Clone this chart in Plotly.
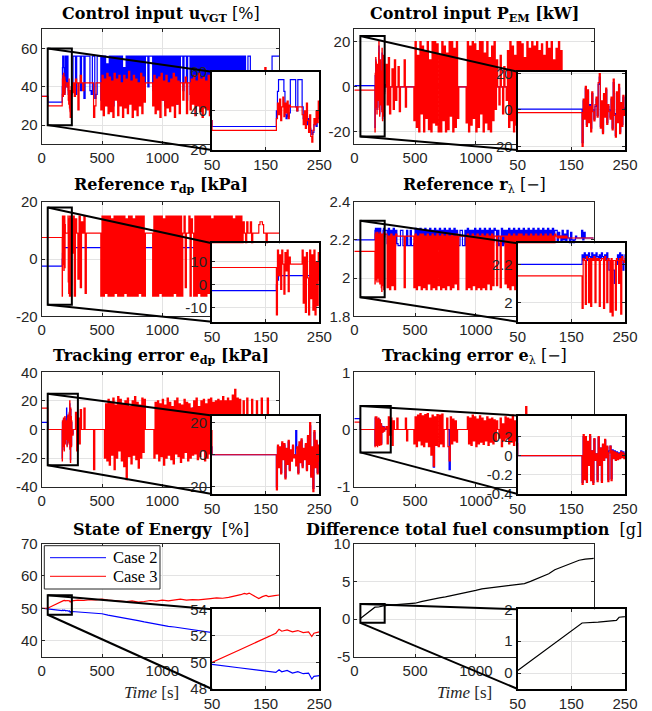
import plotly.graph_objects as go

# ---------------- shared time grid [s] ----------------
T_HEAD = [0, 49, 50, 162,
          164, 166, 168, 170, 172, 174, 176, 178, 180, 182, 184,
          186, 188, 190, 192, 194, 196, 198, 200, 202, 204, 206,
          208, 210, 212, 214, 216, 218, 220, 222, 224, 226, 228,
          230, 232, 234, 236, 238, 240, 242, 244, 246, 248, 250]
T_TAIL = [260, 270, 280, 290, 300, 310, 320, 330, 340, 350,
          360, 370, 380, 390, 400, 410, 420, 430, 440, 450,
          460, 470, 480, 490, 500, 510, 520, 530, 540, 550,
          560, 570, 580, 590, 600, 610, 620, 630, 640, 650,
          660, 670, 680, 690, 700, 710, 720, 730, 740, 750,
          760, 770, 780, 790, 800, 810, 820, 830, 840, 850,
          860, 870, 880, 890, 900, 910, 920, 930, 940, 950,
          960, 970, 980, 990, 1000, 1010, 1020, 1030, 1040, 1050,
          1060, 1070, 1080, 1090, 1100, 1110, 1120, 1130, 1140, 1150,
          1160, 1170, 1180, 1190, 1200, 1210, 1220, 1230, 1240, 1250,
          1260, 1270, 1280, 1290, 1300, 1310, 1320, 1330, 1340, 1350,
          1360, 1370, 1380, 1390, 1400, 1410, 1420, 1430, 1440, 1450,
          1460, 1470, 1480, 1490, 1500, 1510, 1520, 1530, 1540, 1550,
          1560, 1570, 1580, 1590, 1600, 1610, 1620, 1630, 1640, 1650,
          1660, 1670, 1680, 1690, 1700, 1710, 1720, 1730, 1740, 1750,
          1760, 1770, 1780, 1790, 1800, 1810, 1820, 1830, 1840, 1850,
          1860, 1870, 1880, 1890, 1900, 1910, 1920, 1930, 1940, 1950,
          1960, 1970]
TIME = T_HEAD + T_TAIL

# ---------------- Control input u_VGT [%] ----------------
UVGT_CASE2 = [35, 35, 32, 32,
    32, 32, 32, 40, 50, 56, 56, 56, 56, 56, 50,
    38, 36, 40, 37, 39, 56, 56, 56, 56, 56, 42,
    40, 56, 56, 56, 56, 42, 36, 38, 34, 37, 33,
    36, 31, 30, 28, 29, 33, 35, 32, 38, 36, 40,
    56, 56, 36, 56, 56, 56, 38, 56, 56, 34,
    56, 56, 56, 56, 38, 36, 56, 56, 34, 36,
    56, 56, 56, 33, 56, 31, 56, 36, 52, 30,
    56, 34, 56, 30, 56, 38, 56, 32, 56, 36,
    56, 33, 50, 35, 56, 30, 56, 37, 56, 32,
    56, 35, 56, 31, 56, 34, 56, 38, 56, 33,
    56, 56, 40, 56, 56, 56, 38, 56, 34, 56,
    31, 56, 36, 56, 33, 56, 30, 56, 38, 56,
    34, 56, 32, 56, 37, 56, 31, 56, 35, 56,
    56, 38, 56, 56, 33, 56, 56, 36, 56, 34,
    56, 32, 56, 36, 56, 30, 56, 35, 56, 33,
    56, 34, 56, 31, 56, 37, 56, 30, 56, 33,
    56, 36, 56, 32, 56, 35, 56, 30, 56, 38,
    56, 33, 56, 36, 56, 31, 56, 34, 56, 37,
    56, 35, 56, 32, 36, 56, 56, 36, 35, 36,
    35, 36, 35, 36, 35, 36, 35, 36, 35, 36,
    35, 36, 35, 36, 35, 56, 56, 56, 56, 56,
    56, 56]
UVGT_CASE3 = [35, 35, 30, 30,
    30, 30, 30, 36, 44, 38, 46, 35, 42, 47, 37,
    44, 39, 45, 36, 43, 42, 42, 42, 42, 42, 42,
    40, 42, 42, 42, 42, 38, 33, 40, 31, 44, 35,
    29, 38, 27, 24, 30, 36, 33, 40, 34, 45, 37,
    42, 35, 44, 42, 28, 42, 46, 42, 38, 42,
    42, 42, 42, 42, 42, 42, 42, 24, 30, 42,
    42, 42, 42, 28, 46, 25, 44, 30, 47, 26,
    45, 27, 43, 24, 47, 33, 44, 25, 46, 30,
    42, 24, 46, 29, 44, 26, 48, 31, 43, 24,
    46, 28, 44, 25, 42, 30, 47, 26, 45, 32,
    42, 42, 42, 42, 42, 42, 30, 46, 26, 44,
    28, 45, 24, 47, 33, 43, 25, 46, 29, 42,
    27, 44, 30, 47, 24, 45, 31, 43, 26, 42,
    42, 33, 42, 45, 26, 42, 42, 28, 44, 31,
    46, 25, 43, 30, 47, 27, 44, 24, 45, 29,
    43, 28, 46, 25, 44, 31, 42, 26, 47, 29,
    45, 27, 44, 30, 46, 24, 43, 28, 42, 31,
    44, 26, 47, 29, 43, 25, 45, 30, 42, 27,
    46, 28, 44, 31, 42, 42, 42, 42, 42, 42,
    42, 42, 42, 42, 42, 42, 42, 42, 42, 50,
    42, 42, 42, 42, 42, 42, 42, 42, 42, 42,
    42, 42]

# ---------------- Control input P_EM [kW] ----------------
PEM_CASE2_T = T_HEAD + [260, 1970]
PEM_CASE2 = [0.5, 0.5, 0.5, 0.5,
    0.5, 0.5, 0.5, -18, 5, -4, 12, -8, 10, -6, 3,
    -10, 9, 0, -5, 2, 6, -3, 14, 18, -9, 4,
    -12, 8, -3, 11, -7, 2, 0, -4, 6, -10, 15,
    -2, -14, 9, -6, 12, -12, 3, -8, 7, -2, 1,
    0, 0]
PEM_CASE3 = [-1.5, -1.5, -1.5, -1.5,
    -1.5, -1.5, -1.5, -20, 6, -5, 13, -9, 11, -7, 2,
    -12, 10, -1, -6, 3, 7, -4, 15, 20, -10, 5,
    -13, 9, -4, 12, -8, 3, -1, -5, 7, -11, 17,
    -3, -15, 10, -7, 14, -13, 4, -9, 8, -3, 0,
    10, -8, 13, -12, 0, 8, -10, 12, -6, 0,
    9, -11, 0, 0, 0, 12, -9, 0, 0, 0,
    0, 0, 0, -15, 20, -18, 14, -20, 20, -12,
    18, -20, 16, -14, 20, -19, 12, -20, 20, -16,
    20, -17, 19, -20, 14, -20, 20, -15, 18, -20,
    15, -19, 20, -13, 20, -20, 17, -18, 20, -14,
    0, 0, 0, 0, 0, 0, -16, 20, -20, 18,
    -17, 20, -14, 19, -20, 16, -18, 20, -12, 20,
    -20, 15, -16, 20, -19, 13, -20, 18, -15, 20,
    -10, 12, 0, -8, 14, 0, -12, 9, 0, -6,
    16, -18, 20, -15, 18, -20, 14, -17, 20, -19,
    20, -16, 19, -20, 13, -18, 20, -14, 17, -20,
    20, -15, 18, -19, 20, -12, 16, -20, 19, -17,
    14, -18, 20, -13, 17, -19, 20, -16, 12, -18,
    17, -15, 20, -12, 16, 0, 0, 0, 0, 0,
    0, 0, 0, 0, 0, 0, 0, 0, 0, 0,
    0, 0, 0, 0, 0, 0, 0, 0, 0, 0,
    0, 0]

# ---------------- Reference r_dp [kPa] ----------------
RDP_CASE2_T = [0, 168, 170, 172, 174, 230, 232, 236, 238, 1970]
RDP_CASE2 = [-2.5, -2.5, 0, 2, 4, 4, -3, -3, 4, 4]
RDP_CASE3 = [7.5, 7.5, 7.5, 7.5,
    7.5, 7.5, 7.5, -13, 15, 4, 13, -2, 15, 9, -4,
    14, 6, 15, -3, 12, 9, 9, 9, 9, 9, 9,
    9, 9, 9, 9, 9, 15, -8, 12, -12, 14, 3,
    -13, 15, -6, 13, -11, 15, -13, 10, -9, 14, 2,
    15, -13, 14, 9, -7, 15, -10, 13, 9, 15,
    -12, 9, 9, 9, 9, 9, 9, 9, 9, 9,
    9, 9, 9, -13, 15, -13, 15, -12, 15, -13,
    15, -13, 14, -13, 15, -12, 15, -13, 15, -13,
    15, -13, 15, -12, 14, -13, 15, -13, 15, -13,
    14, -13, 15, -13, 15, -12, 15, -13, 15, -13,
    9, 9, 9, 9, 9, 9, -13, 15, -13, 15,
    -13, 15, -12, 15, -13, 14, -13, 15, -13, 15,
    -13, 15, -13, 15, -12, 15, -13, 15, -13, 15,
    -13, 9, 15, -10, 9, 9, 15, -13, 14, 9,
    -13, 15, -13, 15, -12, 15, -13, 15, -13, 15,
    -13, 15, -12, 15, -13, 14, -13, 15, -13, 15,
    -13, 15, -13, 15, -12, 15, -13, 15, -13, 15,
    -12, 15, -13, 14, -13, 15, -12, 15, -13, 15,
    -13, 13, 9, -5, 13, 9, 9, 13, -4, 9,
    9, 9, 9, 9, 12, 13, 13, 12, 9, 9,
    4, 9, 9, 9, 9, 9, 9, 9, 9, 9,
    9, 9]

# ---------------- Reference r_lambda [-] ----------------
RLAM_CASE2 = [2.2, 2.2, 2.2, 2.2,
    2.2, 2.2, 2.2, 2.25, 2.22, 2.26, 2.23, 2.25, 2.22, 2.26, 2.24,
    2.22, 2.26, 2.23, 2.25, 2.22, 2.26, 2.24, 2.22, 2.25, 2.23, 2.26,
    2.24, 2.22, 2.25, 2.22, 2.26, 2.23, 2.17, 2.17, 2.17, 2.17, 2.17,
    2.1, 2.17, 2.2, 2.25, 2.22, 2.26, 2.23, 2.25, 2.17, 2.22, 2.25,
    2.25, 2.18, 2.26, 2.17, 2.25, 2.19, 2.26, 2.17, 2.25, 2.18,
    2.17, 2.17, 2.25, 2.25, 2.17, 2.17, 2.17, 2.25, 2.17, 2.17,
    2.25, 2.17, 2.17, 2.18, 2.26, 2.17, 2.25, 2.19, 2.26, 2.17,
    2.25, 2.18, 2.26, 2.17, 2.25, 2.19, 2.26, 2.18, 2.25, 2.17,
    2.26, 2.17, 2.25, 2.18, 2.26, 2.17, 2.25, 2.19, 2.26, 2.18,
    2.25, 2.17, 2.26, 2.18, 2.25, 2.17, 2.26, 2.19, 2.25, 2.17,
    2.17, 2.25, 2.25, 2.17, 2.17, 2.25, 2.17, 2.26, 2.18, 2.25,
    2.17, 2.25, 2.18, 2.26, 2.17, 2.25, 2.19, 2.26, 2.17, 2.25,
    2.18, 2.26, 2.17, 2.25, 2.18, 2.26, 2.17, 2.25, 2.19, 2.26,
    2.25, 2.17, 2.25, 2.17, 2.18, 2.26, 2.17, 2.25, 2.18, 2.25,
    2.17, 2.26, 2.18, 2.25, 2.17, 2.26, 2.18, 2.25, 2.17, 2.26,
    2.18, 2.25, 2.17, 2.26, 2.18, 2.25, 2.17, 2.26, 2.19, 2.25,
    2.17, 2.26, 2.18, 2.25, 2.17, 2.26, 2.18, 2.25, 2.17, 2.26,
    2.18, 2.25, 2.17, 2.26, 2.19, 2.25, 2.17, 2.26, 2.18, 2.25,
    2.25, 2.19, 2.24, 2.22, 2.19, 2.25, 2.2, 2.23, 2.19, 2.25,
    2.21, 2.18, 2.24, 2.2, 2.17, 2.2, 2.22, 2.21, 2.21, 2.21,
    2.21, 2.25, 2.2, 2.24, 2.21, 2.21, 2.21, 2.21, 2.21, 2.21,
    2.21, 2.21]
RLAM_CASE3 = [2.14, 2.14, 2.14, 2.14,
    2.14, 2.14, 2.14, 1.97, 2.23, 2.22, 1.99, 2.24, 2.23, 2.0, 2.23,
    1.98, 2.23, 2.22, 2.24, 2.0, 2.23, 2.22, 2.23, 1.98, 2.22, 2.23,
    2.23, 1.97, 2.24, 2.22, 2.0, 2.23, 2.22, 1.95, 2.23, 1.93, 2.22,
    2.22, 1.96, 2.23, 2.22, 2.1, 2.23, 1.94, 2.24, 2.22, 2.21, 2.23,
    2.23, 1.95, 2.22, 1.94, 2.23, 1.96, 2.22, 1.94, 2.23, 2.22,
    2.22, 2.22, 2.22, 2.22, 2.22, 1.95, 2.22, 2.22, 2.22, 2.22,
    2.22, 2.22, 2.22, 1.95, 2.23, 1.94, 2.22, 1.96, 2.23, 1.94,
    2.23, 1.95, 2.22, 1.94, 2.23, 1.97, 2.22, 1.94, 2.23, 1.95,
    2.22, 1.94, 2.23, 1.96, 2.22, 1.94, 2.23, 1.95, 2.22, 1.94,
    2.23, 1.96, 2.22, 1.94, 2.23, 1.95, 2.22, 1.97, 2.23, 1.94,
    2.22, 2.22, 2.22, 2.22, 2.22, 2.22, 1.94, 2.23, 1.95, 2.22,
    1.94, 2.23, 1.96, 2.22, 1.94, 2.23, 1.95, 2.22, 1.94, 2.23,
    1.95, 2.22, 1.94, 2.23, 1.97, 2.22, 1.94, 2.23, 1.96, 2.22,
    2.22, 1.96, 2.22, 2.22, 1.95, 2.22, 2.22, 2.22, 1.97, 2.22,
    1.95, 2.23, 1.94, 2.22, 1.96, 2.23, 1.94, 2.22, 1.95, 2.23,
    1.96, 2.23, 1.94, 2.22, 1.95, 2.23, 1.97, 2.22, 1.94, 2.23,
    1.95, 2.22, 1.94, 2.23, 1.96, 2.22, 1.95, 2.23, 1.94, 2.22,
    1.96, 2.23, 1.94, 2.22, 1.95, 2.23, 1.94, 2.22, 1.97, 2.23,
    2.22, 2.21, 2.22, 2.21, 2.22, 2.21, 2.22, 2.21, 2.22, 2.21,
    2.21, 2.21, 2.21, 2.21, 2.21, 2.21, 2.21, 2.21, 2.21, 2.21,
    2.21, 2.21, 2.21, 2.21, 2.21, 2.21, 2.21, 2.21, 2.21, 2.21,
    2.21, 2.21]

# ---------------- Tracking error e_dp [kPa] ----------------
EDP_HEAD_CASE2 = [5, 5, 0, 0,
    0, 0, 0, -20, 5, -7, 4, -11, 7, -2, 6,
    -14, 3, -5, 8, -9, 2, -3, 5, -1, 0, 15,
    4, -11, 6, -4, 9, -7, 3, -2, 6, -9, 11,
    -5, 18, -13, 4, -21, 14, -7, 8, -11, 5, -3]
EDP_CASE2_T = T_HEAD + [260, 560, 570, 580, 950, 960, 970, 1240, 1250, 1260, 1970]
EDP_CASE2 = EDP_HEAD_CASE2 + [0, 0, -14, 0, 0, 18, 0, 0, 15, 0, 0]
EDP_CASE3 = [15, 15, 0, 0,
    0, 0, 0, -22, 6, -8, 5, -12, 8, -3, 7,
    -15, 4, -6, 9, -10, 3, -4, 6, -2, 0, -7,
    5, -12, 8, -5, 10, -8, 4, -3, 7, -10, 12,
    -6, 20, -14, 5, -23, 15, -8, 9, -12, 6, -4,
    0, 0, 12, -15, 8, -10, 14, 0, 0, 15,
    0, 0, 0, 0, 0, 0, 0, -28, 0, 0,
    0, 0, 0, 0, 0, 0, -20, 18, -22, 21,
    -25, 19, -18, 22, -28, 17, -20, 23, -15, 21,
    -22, 18, -26, 20, -35, 22, -19, 16, -24, 20,
    -18, 23, -21, 19, -27, 17, -20, 22, -16, 21,
    0, 0, 0, 0, 0, 0, 0, -20, 19, -17,
    20, -22, 18, -19, 21, -25, 17, -20, 22, -18,
    19, -21, 16, -24, 20, -17, 22, -19, 18, -23,
    17, -20, 21, -16, 19, -22, 18, -20, 15, -18,
    20, -17, 22, -21, 16, -19, 20, -15, 21, -22,
    18, -20, 21, -17, 22, -20, 19, -16, 20, -22,
    21, -18, 20, -19, 23, -17, 20, -21, 22, -18,
    20, -19, 24, -16, 28, -20, 22, -18, 21, -17,
    0, 20, 0, 0, 22, 0, 0, 0, 21, 0,
    0, 0, 20, 0, 0, 0, 22, 0, 0, 0,
    0, 22, 0, 0, 0, 0, 0, 0, 0, 0,
    0, 0]

# ---------------- Tracking error e_lambda [-] ----------------
ELAM_HEAD_CASE2 = [0.19, 0.19, 0, 0,
    0, 0, 0, -0.28, 0.2, -0.23, 0.19, -0.26, 0.14, -0.09, 0.2,
    -0.24, 0.05, -0.28, 0.17, -0.05, 0.02, -0.25, 0.19, -0.09, 0.08, -0.26,
    0.11, -0.05, 0.16, -0.02, 0.09, -0.25, 0.05, 0.1, -0.24, 0.06, -0.02,
    0.05, -0.04, 0.04, -0.03, 0.03, -0.02, 0.05, -0.01, 0.04, -0.02, 0.02]
ELAM_CASE2_T = T_HEAD + [260, 640, 650, 660, 770, 780, 790, 1970]
ELAM_CASE2 = ELAM_HEAD_CASE2 + [0, 0, -0.66, 0, 0, -0.7, 0, 0]
ELAM_CASE3 = [0.13, 0.13, 0, 0,
    0, 0, 0, -0.3, 0.22, -0.25, 0.2, -0.28, 0.15, -0.1, 0.22,
    -0.26, 0.05, -0.3, 0.18, -0.05, 0.02, -0.27, 0.2, -0.1, 0.08, -0.28,
    0.12, -0.05, 0.17, -0.02, 0.1, -0.27, 0.03, 0.1, -0.26, 0.05, -0.03,
    0.04, -0.05, 0.03, -0.04, 0.02, -0.03, 0.04, -0.02, 0.03, -0.03, 0.01,
    0.05, -0.25, 0.22, -0.1, 0.2, -0.28, 0.15, 0, 0, 0.2,
    0, 0, 0, 0, 0, 0, 0.2, -0.2, 0, 0,
    0, 0, 0, -0.25, 0.22, -0.3, 0.25, -0.2, 0.28, -0.27,
    0.24, -0.3, 0.26, -0.22, 0.28, -0.3, 0.2, -0.45, 0.25, -0.64,
    0.22, -0.28, 0.26, -0.3, 0.25, -0.25, 0.27, -0.3, 0, 0,
    0.2, -0.3, -0.55, 0.22, -0.25, 0.18, -0.2, 0.15, -0.22, 0,
    0, 0, 0, 0, 0, 0, 0, 0.22, -0.25, 0.2,
    -0.28, 0.25, -0.2, 0.22, -0.3, 0.18, -0.25, 0.24, -0.22, 0.2,
    -0.26, 0.15, -0.2, 0.22, -0.28, 0.18, -0.22, 0.2, -0.25, 0.17,
    -0.2, 0.15, 0, -0.15, 0.2, -0.3, 0.1, -0.2, 0.22, -0.15,
    0.2, -0.25, 0.18, -0.22, 0.25, -0.28, 0.15, -0.2, 0.22, -0.3,
    0.2, -0.25, 0.22, -0.2, 0.25, 0.4, -0.2, 0.15, -0.1, 0.1,
    -0.05, 0.08, -0.1, 0.05, 0, 0, 0.06, -0.05, 0, 0,
    0, 0, 0, 0, 0, 0, 0, 0, 0, 0,
    0, 0, 0, 0, 0, 0, 0, 0, 0, 0,
    0, 0, 0, 0, 0, 0, 0, 0, 0, 0,
    0, 0, 0, 0, 0, 0, 0, 0, 0, 0,
    0, 0]

# ---------------- State of Energy [%] ----------------
SOE_T = [0, 50, 100, 169, 175, 180, 190, 200, 210, 220, 230, 236, 240, 250,
         300, 350, 400, 450, 500, 550, 600, 650, 700, 750, 800, 850, 900, 950,
         1000, 1050, 1100, 1150, 1200, 1250, 1300, 1350, 1400, 1450, 1500, 1550,
         1600, 1650, 1680, 1700, 1720, 1750, 1780, 1800, 1830, 1860, 1880, 1900,
         1930, 1970]
SOE_CASE2 = [50, 49.85, 49.6, 49.25, 49.45, 49.3, 49.4, 49.2, 49.3, 49.15, 49.2, 48.75, 48.95, 49.0,
             48.9, 48.8, 48.7, 48.5, 48.3, 47.9, 47.6, 47.3, 46.9, 46.5, 46.2, 45.8, 45.4, 45.1,
             44.7, 44.4, 44.2, 43.9, 43.6, 43.4, 43.0, 42.8, 42.4, 42.2, 42.0, 41.8,
             41.6, 41.4, 41.3, 41.2, 41.1, 41.0, 40.9, 40.8, 40.7, 40.6, 40.5, 40.5,
             40.4, 40.3]
SOE_CASE3 = [50, 50.0, 50.92, 52.2, 52.5, 52.35, 52.45, 52.3, 52.4, 52.25, 52.3, 51.95, 52.2, 52.3,
             52.5, 52.4, 52.7, 52.6, 52.8, 52.5, 52.4, 52.3, 52.1, 52.3, 51.9, 52.1, 52.4, 52.2,
             52.5, 52.3, 52.6, 52.8, 52.5, 52.7, 52.6, 52.9, 53.0, 53.2, 53.1, 53.4,
             53.7, 54.2, 54.6, 54.4, 54.7, 54.0, 53.5, 53.0, 53.6, 54.0, 53.6, 53.8,
             53.9, 54.1]

# ---------------- Difference total fuel consumption [g] ----------------
FUEL_T = [50, 100, 170, 200, 234, 239, 250, 300, 350, 400, 450, 500, 550, 600, 650,
          700, 750, 800, 850, 900, 950, 1000, 1050, 1100, 1150, 1200, 1250, 1300,
          1350, 1400, 1450, 1500, 1550, 1600, 1650, 1700, 1750, 1800, 1850, 1900,
          1950, 1980]
FUEL_DIFF = [0.08, 0.7, 1.57, 1.6, 1.65, 1.75, 1.78, 1.85, 1.9, 1.95, 2.0, 2.1, 2.3, 2.5, 2.65,
             2.8, 2.95, 3.1, 3.3, 3.45, 3.55, 3.8, 4.0, 4.1, 4.2, 4.25, 4.35, 4.45,
             4.5, 4.7, 5.0, 5.3, 5.6, 6.0, 6.55, 6.85, 7.15, 7.45, 7.8, 7.95,
             8.0, 8.05]

for s in (UVGT_CASE2, UVGT_CASE3, PEM_CASE3, RDP_CASE3, RLAM_CASE2, RLAM_CASE3, EDP_CASE3, ELAM_CASE3):
    assert len(s) == len(TIME), len(s)
assert len(PEM_CASE2) == len(PEM_CASE2_T)
assert len(EDP_CASE2) == len(EDP_CASE2_T)
assert len(ELAM_CASE2) == len(ELAM_CASE2_T)
assert len(SOE_CASE2) == len(SOE_T) == len(SOE_CASE3)
assert len(FUEL_T) == len(FUEL_DIFF)

MAIN_XTICKS = [0, 500, 1000]
INSET_XTICKS = [50, 150, 250]
XMAX = 1970

BLUE, RED, BLACK = '#0000ff', '#ff0000', '#000000'

# ---------------- layout geometry (pixels) ----------------
W, H = 652, 711
def fx(p): return p / W
def fy(p): return 1 - p / H

COLS = {'L': (41.7, 279.3), 'R': (354.3, 593.7)}
INS_X = {'L': (212.0, 319.3), 'R': (517.7, 625.0)}
ROWS = [(29.3, 144.3), (201.7, 316.3), (372.3, 486.7), (543.7, 656.7)]
INS_Y = [(71.7, 150.0), (243.3, 321.7), (415.5, 494.0), (609.3, 689.0)]
TITLE_Y = [14, 185, 356.5, 529]

panels = [
    dict(col='L', row=0, title='<b>Control input u<sub>VGT</sub></b> [%]',
         yr=[10, 70], yt=[20, 40, 60], iyr=[20, 60], iyt=[20, 40, 60], rect=[50, 250, 20, 60],
         series=[(TIME, UVGT_CASE2, BLUE), (TIME, UVGT_CASE3, RED)], shape='hv'),
    dict(col='R', row=0, title='<b>Control input P<sub>EM</sub> [kW]</b>',
         yr=[-25.5, 25.5], yt=[-20, 0, 20], iyr=[-22, 21], iyt=[-20, 0, 20], rect=[50, 250, -22, 22.5],
         series=[(PEM_CASE2_T, PEM_CASE2, BLUE), (TIME, PEM_CASE3, RED)], shape='hv'),
    dict(col='L', row=1, title='<b>Reference r<sub>dp</sub> [kPa]</b>',
         yr=[-20, 20], yt=[-20, 0, 20], iyr=[-16, 18], iyt=[-10, 0, 10], rect=[50, 250, -16, 18],
         series=[(RDP_CASE2_T, RDP_CASE2, BLUE), (TIME, RDP_CASE3, RED)], shape='hv'),
    dict(col='R', row=1, title='<b>Reference r</b><sub>λ</sub> [−]',
         yr=[1.8, 2.4], yt=[1.8, 2, 2.2, 2.4], iyr=[1.9, 2.31], iyt=[2, 2.2], rect=[50, 250, 1.9, 2.3],
         series=[(TIME, RLAM_CASE2, BLUE), (TIME, RLAM_CASE3, RED)], shape='hv'),
    dict(col='L', row=2, title='<b>Tracking error e<sub>dp</sub> [kPa]</b>',
         yr=[-40, 40], yt=[-40, -20, 0, 20, 40], iyr=[-24.5, 24.5], iyt=[-20, 0, 20], rect=[50, 300, -25, 25],
         series=[(EDP_CASE2_T, EDP_CASE2, BLUE), (TIME, EDP_CASE3, RED)], shape='hv'),
    dict(col='R', row=2, title='<b>Tracking error e</b><sub>λ</sub> [−]',
         yr=[-1, 1], yt=[-1, 0, 1], iyr=[-0.4, 0.42], iyt=[-0.4, -0.2, 0, 0.2], rect=[50, 300, -0.4, 0.41],
         series=[(ELAM_CASE2_T, ELAM_CASE2, BLUE), (TIME, ELAM_CASE3, RED)], shape='hv'),
    dict(col='L', row=3, title='<b>State of Energy</b>  [%]',
         yr=[35, 70], yt=[40, 50, 60, 70], iyr=[48, 54], iyt=[48, 50, 52, 54], rect=[50, 250, 48, 54],
         series=[(SOE_T, SOE_CASE2, BLUE), (SOE_T, SOE_CASE3, RED)], shape='linear'),
    dict(col='R', row=3, title='<b>Difference total fuel consumption</b>  [g]',
         yr=[-5, 10], yt=[-5, 0, 5, 10], iyr=[-0.5, 2], iyt=[0, 1, 2], rect=[50, 250, -0.5, 2],
         series=[(FUEL_T, FUEL_DIFF, BLACK)], shape='linear'),
]

def lab(v):
    return ('%g' % v)

TICKFONT = dict(family='Liberation Sans, Arial, sans-serif', size=15, color='#262626')
AX_COMMON = dict(showgrid=True, gridcolor='#e3e3e3', gridwidth=1, zeroline=False,
                 showline=True, mirror='ticks', ticks='inside', ticklen=3,
                 tickfont=TICKFONT, fixedrange=True, automargin=False)

fig = go.Figure()
layout = {}
shapes = []
annotations = []

for i, p in enumerate(panels):
    m, n = i + 1, i + 9
    x0, x1 = COLS[p['col']]
    y0, y1 = ROWS[p['row']]
    ix0, ix1 = INS_X[p['col']]
    iy0, iy1 = INS_Y[p['row']]
    layout['xaxis%d' % m] = dict(domain=[fx(x0), fx(x1)], range=[0, XMAX], anchor='y%d' % m,
                                 tickvals=MAIN_XTICKS, ticktext=[lab(v) for v in MAIN_XTICKS],
                                 linecolor='#262626', linewidth=1, tickcolor='#262626', **AX_COMMON)
    layout['yaxis%d' % m] = dict(domain=[fy(y1), fy(y0)], range=p['yr'], anchor='x%d' % m,
                                 tickvals=p['yt'], ticktext=[lab(v) for v in p['yt']],
                                 linecolor='#262626', linewidth=1, tickcolor='#262626', **AX_COMMON)
    layout['xaxis%d' % n] = dict(domain=[fx(ix0), fx(ix1)], range=[50, 250], anchor='y%d' % n,
                                 tickvals=INSET_XTICKS, ticktext=[lab(v) for v in INSET_XTICKS],
                                 linecolor='#000000', linewidth=2, tickcolor='#262626', **AX_COMMON)
    layout['yaxis%d' % n] = dict(domain=[fy(iy1), fy(iy0)], range=p['iyr'], anchor='x%d' % n,
                                 tickvals=p['iyt'], ticktext=[lab(v) for v in p['iyt']],
                                 linecolor='#000000', linewidth=2, tickcolor='#262626', **AX_COMMON)
    for ax in (m, n):
        for (t, y, c) in p['series']:
            fig.add_trace(go.Scatter(x=t, y=y, mode='lines',
                                     line=dict(color=c, width=1.2, shape=p['shape']),
                                     xaxis='x%d' % ax, yaxis='y%d' % ax,
                                     showlegend=False, hoverinfo='skip'))
    # zoom rectangle in data coordinates
    r = p['rect']
    shapes.append(dict(type='rect', xref='x%d' % m, yref='y%d' % m,
                       x0=r[0], x1=r[1], y0=r[2], y1=r[3],
                       line=dict(color='black', width=2), layer='above'))
    # connectors from rectangle corners to inset corners
    def dx(v): return x0 + (v - 0) / XMAX * (x1 - x0)
    def dy(v): return y1 - (v - p['yr'][0]) / (p['yr'][1] - p['yr'][0]) * (y1 - y0)
    shapes.append(dict(type='line', xref='paper', yref='paper',
                       x0=fx(dx(r[0])), y0=fy(dy(r[3])), x1=fx(ix0), y1=fy(iy0),
                       line=dict(color='black', width=2), layer='above'))
    shapes.append(dict(type='line', xref='paper', yref='paper',
                       x0=fx(dx(r[0])), y0=fy(dy(r[2])), x1=fx(ix0), y1=fy(iy1),
                       line=dict(color='black', width=2), layer='above'))
    # title
    annotations.append(dict(text=p['title'], x=fx((x0 + x1) / 2), y=fy(TITLE_Y[p['row']]),
                            xref='paper', yref='paper', xanchor='center', yanchor='middle',
                            showarrow=False,
                            font=dict(family='DejaVu Serif, serif', size=16, color='black')))

# x labels of the bottom row
for cx in (151, 464):
    annotations.append(dict(text='<i>Time</i> [s]', x=fx(cx), y=fy(692), xref='paper', yref='paper',
                            xanchor='center', yanchor='middle', showarrow=False,
                            font=dict(family='Liberation Serif, serif', size=17, color='#262626')))

# legend (State of Energy panel)
shapes.append(dict(type='rect', xref='paper', yref='paper', x0=fx(44.3), x1=fx(160), y0=fy(589), y1=fy(545.7),
                   fillcolor='white', line=dict(color='#262626', width=1), layer='above'))
for yy, c, name in ((557.7, BLUE, 'Case 2'), (576.3, RED, 'Case 3')):
    shapes.append(dict(type='line', xref='paper', yref='paper', x0=fx(50), x1=fx(106), y0=fy(yy), y1=fy(yy),
                       line=dict(color=c, width=1), layer='above'))
    annotations.append(dict(text=name, x=fx(111), y=fy(yy), xref='paper', yref='paper',
                            xanchor='left', yanchor='middle', showarrow=False,
                            font=dict(family='Liberation Serif, serif', size=16.5, color='black')))

layout.update(dict(width=W, height=H, autosize=False, margin=dict(l=0, r=0, t=0, b=0, pad=0),
                   paper_bgcolor='#ffffff', plot_bgcolor='#fffffe', showlegend=False,
                   shapes=shapes, annotations=annotations))
fig.update_layout(**layout)
fig.write_html('out.html', config={'displayModeBar': False, 'staticPlot': True},
               post_script="document.body.style.margin='0';document.body.style.overflow='hidden';")
